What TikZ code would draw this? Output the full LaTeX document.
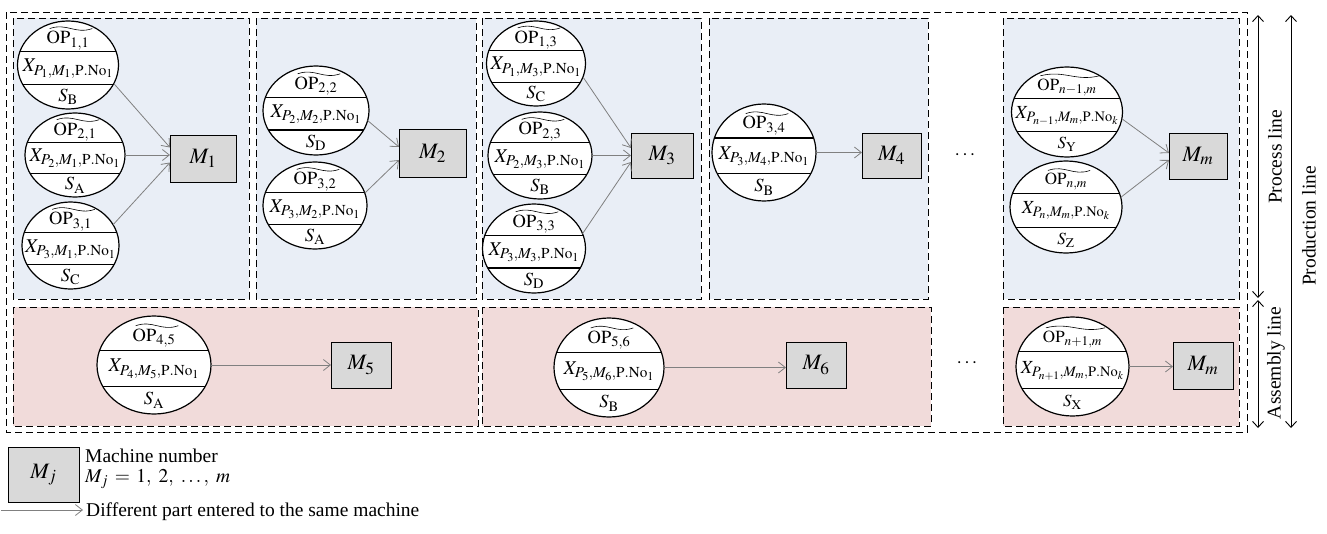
\documentclass[tikz,border=0pt]{standalone}
\usepackage{mathptmx}
\usepackage{fontspec}
\setmainfont{Liberation Serif}
\usetikzlibrary{arrows.meta,calc,shapes.geometric}
\renewcommand{\defaultscriptratio}{.78}
\renewcommand{\defaultscriptscriptratio}{.62}
\definecolor{procfill}{HTML}{E9EEF6}
\definecolor{asmfill}{HTML}{F1DBDA}
\definecolor{mfill}{HTML}{D9D9D9}
\definecolor{flowgray}{HTML}{808080}
% fonts for regular (r) and small (s) operation ellipses
\newcommand{\opfontr}{\fontsize{18.5}{18.5}\selectfont}
\newcommand{\xfontr}{\fontsize{19.5}{19.5}\selectfont}
\newcommand{\opfonts}{\fontsize{17}{17}\selectfont}
\newcommand{\xfonts}{\fontsize{18.5}{18.5}\selectfont}
\newcommand{\opnode}[9]{%
  \node[opell, minimum width={2*#4pt}, minimum height={2*#5pt}] (#1) at (#2,#3) {};
  \begin{scope}
    \clip (#2,#3) ellipse ({#4} and {#5});
    \draw[chord] ({#2-#4},{#3-0.3*#5}) -- ({#2+#4},{#3-0.3*#5});
    \draw[chord] ({#2-#4},{#3+0.44*#5}) -- ({#2+#4},{#3+0.44*#5});
  \end{scope}
  \node[optext, font=\csname opfont#9\endcsname] (#1-op) at (#2,{#3-0.55*#5}) {$\mathrm{OP}_{#6}$};
  \draw[tildeline] ([xshift=3pt,yshift=3pt]#1-op.north west) coordinate (#1-ta)
     .. controls ($([xshift=3pt,yshift=3pt]#1-op.north west)!0.4!([xshift=3pt,yshift=3pt]#1-op.north east)+(0,-6)$)
     and ($([xshift=3pt,yshift=3pt]#1-op.north west)!0.6!([xshift=3pt,yshift=3pt]#1-op.north east)+(0,6)$)
     .. ([xshift=3pt,yshift=3pt]#1-op.north east) coordinate (#1-tb);
  \node[optext, font=\csname xfont#9\endcsname] (#1-x) at (#2,{#3+0.08*#5}) {$X_{#7}$};
  \node[optext, font=\csname opfont#9\endcsname] (#1-s) at (#2,{#3+0.72*#5}) {$S_{\mathrm{#8}}$};
}
\tikzset{
  opell/.style={ellipse, draw=black, line width=1.2pt, fill=white, inner sep=0pt, outer sep=0pt},
  chord/.style={draw=black, line width=1.3pt},
  tildeline/.style={draw=black, line width=0.6pt},
  optext/.style={inner sep=0pt, outer sep=0pt},
  mbox/.style={draw=black, line width=0.8pt, fill=mfill, inner sep=0pt, outer sep=0pt, font=\fontsize{22}{22}\selectfont},
  procbox/.style={draw=black, line width=0.9pt, dash pattern=on 7pt off 4pt, fill=procfill},
  asmbox/.style={draw=black, line width=0.9pt, dash pattern=on 7pt off 4pt, fill=asmfill},
  outerbox/.style={draw=black, line width=0.9pt, dash pattern=on 7pt off 4pt},
  flow/.style={draw=flowgray, line width=0.8pt, -{Straight Barb[length=7pt,width=11pt]}},
  span/.style={draw=black, line width=0.9pt, {Straight Barb[length=6pt,width=11pt]}-{Straight Barb[length=6pt,width=11pt]}},
  lbl/.style={font=\fontsize{19.5}{19.5}\selectfont, inner sep=0pt},
}
\begin{document}
\begin{tikzpicture}[x=1pt,y=-1pt]
\useasboundingbox (0,0) rectangle (1327,533);
% containers
\draw[outerbox] (6,12) rectangle (1247,432);
\draw[procbox] (13,18) rectangle (249,299);
\draw[procbox] (256,18) rectangle (476,299);
\draw[procbox] (482,18) rectangle (701,299);
\draw[procbox] (709,18) rectangle (928,299);
\draw[procbox] (1003,18) rectangle (1239,299);
\draw[asmbox] (13,307) rectangle (478,426);
\draw[asmbox] (482,307) rectangle (931,426);
\draw[asmbox] (1003,307) rectangle (1239,426);
% operation ellipses
\opnode{e11}{68}{65}{50.5}{44}{1,1}{P_1,M_1,\mathrm{P.No}_1}{B}{r}
\opnode{e21}{75}{155}{50}{42}{2,1}{P_2,M_1,\mathrm{P.No}_1}{A}{r}
\opnode{e31}{70.5}{245.5}{48.5}{43.5}{3,1}{P_3,M_1,\mathrm{P.No}_1}{C}{r}
\opnode{e22}{316}{110.5}{53}{44.5}{2,2}{P_2,M_2,\mathrm{P.No}_1}{D}{r}
\opnode{e32}{315}{205.5}{52}{43.5}{3,2}{P_3,M_2,\mathrm{P.No}_1}{A}{r}
\opnode{e13}{536}{63.5}{49.5}{42.5}{1,3}{P_1,M_3,\mathrm{P.No}_1}{C}{r}
\opnode{e23}{540}{155.5}{52}{43.5}{2,3}{P_2,M_3,\mathrm{P.No}_1}{B}{r}
\opnode{e33}{534}{248.5}{51.5}{44.5}{3,3}{P_3,M_3,\mathrm{P.No}_1}{D}{r}
\opnode{e34}{764}{152.5}{52}{48.5}{3,4}{P_3,M_4,\mathrm{P.No}_1}{B}{r}
\opnode{enm1}{1067}{112}{55.5}{45}{n-1,m}{P_{n-1},M_m,\mathrm{P.No}_k}{Y}{s}
\opnode{enm}{1066}{207}{56}{46}{n,m}{P_n,M_m,\mathrm{P.No}_k}{Z}{s}
\opnode{e45}{154}{365}{57}{49}{4,5}{P_4,M_5,\mathrm{P.No}_1}{A}{r}
\opnode{e56}{609}{367.5}{55}{49.5}{5,6}{P_5,M_6,\mathrm{P.No}_1}{B}{r}
\opnode{enp1}{1072.5}{366.5}{56.5}{49.5}{n+1,m}{P_{n+1},M_m,\mathrm{P.No}_k}{X}{s}
% machines
\node[mbox, minimum width=66pt, minimum height=47pt] (M1) at (203,158.5) {$M_1$};
\node[mbox, minimum width=67pt, minimum height=48pt] (M2) at (432.5,153) {$M_2$};
\node[mbox, minimum width=62pt, minimum height=45pt] (M3) at (662,155.5) {$M_3$};
\node[mbox, minimum width=59pt, minimum height=45pt] (M4) at (891.5,155.5) {$M_4$};
\node[mbox, minimum width=58pt, minimum height=46pt] (Mm) at (1198,156) {$M_m$};
\node[mbox, minimum width=60pt, minimum height=46pt] (M5) at (361,365) {$M_5$};
\node[mbox, minimum width=60pt, minimum height=46pt] (M6) at (816,365) {$M_6$};
\node[mbox, minimum width=60pt, minimum height=47pt] (Mm2) at (1203,365.5) {$M_m$};
% flows
\draw[flow] (e11.-22) -- ([yshift=11pt]M1.west);
\draw[flow] (e21.east) -- (e21.east -| M1.west);
\draw[flow] (e31.26) -- ([yshift=-4pt]M1.west);
\draw[flow] (e22.-11) -- ([yshift=6pt]M2.west);
\draw[flow] (e32.14) -- ([yshift=-7pt]M2.west);
\draw[flow] (e13.-16) -- ([yshift=7.5pt]M3.west);
\draw[flow] (e23.east) -- (e23.east -| M3.west);
\draw[flow] (e33.17) -- ([yshift=-6.5pt]M3.west);
\draw[flow] (e34.east) -- (e34.east -| M4.west);
\draw[flow] (enm1.-7) -- ([yshift=3pt]Mm.west);
\draw[flow] (enm.10) -- ([yshift=-4pt]Mm.west);
\draw[flow] (e45.east) -- (e45.east -| M5.west);
\draw[flow] (e56.east) -- (e56.east -| M6.west);
\draw[flow] (enp1.east) -- (enp1.east -| Mm2.west);
% ellipsis dots
\node[lbl] (dots1) at (965,155) {$\cdots$};
\node[lbl] (dots2) at (967,363) {$\cdots$};
% side spans
\coordinate (pt) at (1258,15);
\coordinate (pb) at (1258,298);
\coordinate (at) at (1258,300);
\coordinate (ab) at (1258,428);
\coordinate (qt) at (1291,15);
\coordinate (qb) at (1291,428);
\draw[span] (pt) -- (pb);
\draw[span] (at) -- (ab);
\draw[span] (qt) -- (qb);
\node[lbl, rotate=90] (plbl) at (1275,157) {Process line};
\node[lbl, rotate=90] (albl) at (1276,363) {Assembly line};
\node[lbl, rotate=90] (qlbl) at (1309,226) {Production line};
% legend
\node[mbox, minimum width=71pt, minimum height=55pt] (Mj) at (43.5,474.5) {$M_j$};
\node[lbl, anchor=base west] (leg1) at (85,462) {Machine number};
\node[lbl, anchor=base west] (leg2) at (85,482) {$M_j\,=\,1,\ 2,\ \ldots,\ m$};
\coordinate (la) at (1,510);
\coordinate (lb) at (83,510);
\draw[flow] (la) -- (lb);
\node[lbl, anchor=base west] (leg3) at (86,516) {Different part entered to the same machine};
\end{tikzpicture}
\end{document}
